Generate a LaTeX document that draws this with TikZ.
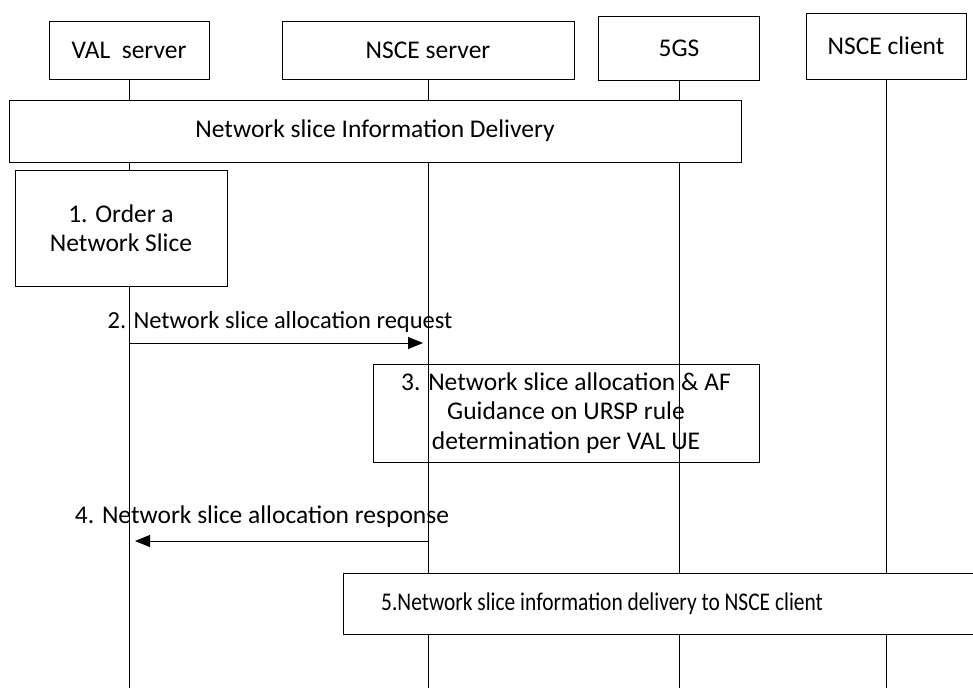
\documentclass[tikz,border=0pt]{standalone}
\usepackage{fontspec}
\usepackage{graphicx}
\setmainfont{Carlito}
\usetikzlibrary{arrows.meta}
\begin{document}
\begin{tikzpicture}[x=1pt,y=-1pt,
  every node/.style={font=\fontsize{25.5}{29.5}\selectfont, inner sep=0pt, align=center},
  box/.style={draw, line width=0.9pt, fill=white, rectangle},
  openbox/.style={draw, line width=0.9pt, rectangle},
  life/.style={line width=0.9pt},
  msg/.style={line width=0.9pt, -{Triangle[length=15pt,width=12pt]}}]
\useasboundingbox (0,0) rectangle (973,688);
\coordinate (bot) at (0,688);
% header boxes
\node[box, minimum width=160pt, minimum height=58pt] (val) at (129,50) {VAL\ \ server};
\node[box, minimum width=292pt, minimum height=58pt] (nsces) at (428,50) {NSCE server};
\node[box, minimum width=161pt, minimum height=64pt] (fgs) at (679,48) {5GS};
\node[box, minimum width=160pt, minimum height=66pt] (nscec) at (886,46) {NSCE client};
% lifelines
\draw[life] (val.south) -- (val.south |- bot);
\draw[life] (nsces.south) -- (nsces.south |- bot);
\draw[life] (fgs.south) -- (fgs.south |- bot);
\draw[life] (nscec.south) -- (nscec.south |- bot);
% boxes
\node[box, minimum width=732pt, minimum height=62pt] (deliv) at (375,131) {Network slice Information Delivery};
\node[box, minimum width=212pt, minimum height=116pt] (s1) at (121,228) {1. Order a\\Network Slice};
\node[openbox, minimum width=386pt, minimum height=98pt] (s3) at (566,413) {3. Network slice allocation \& AF\\Guidance on URSP rule\\determination per VAL UE};
\node[box, minimum width=642pt, minimum height=61pt] (s5) at (664,603.5) {};
\node (t5) at (602,603.5) {\scalebox{0.84}[1]{5.Network slice information delivery to NSCE client}};
% messages
\coordinate (m2a) at (val.south |- 0,343);
\coordinate (m2b) at (nsces.south |- 0,343);
\draw[msg, shorten >=5pt] (m2a) -- (m2b);
\node[anchor=base, font=\fontsize{24.5}{29}\selectfont] (l2) at (280,328) {2. Network slice allocation request};
\coordinate (m4a) at (nsces.south |- 0,541);
\coordinate (m4b) at (val.south |- 0,541);
\draw[msg, shorten >=6pt] (m4a) -- (m4b);
\node[anchor=base] (l4) at (262,523) {4. Network slice allocation response};
\end{tikzpicture}
\end{document}
